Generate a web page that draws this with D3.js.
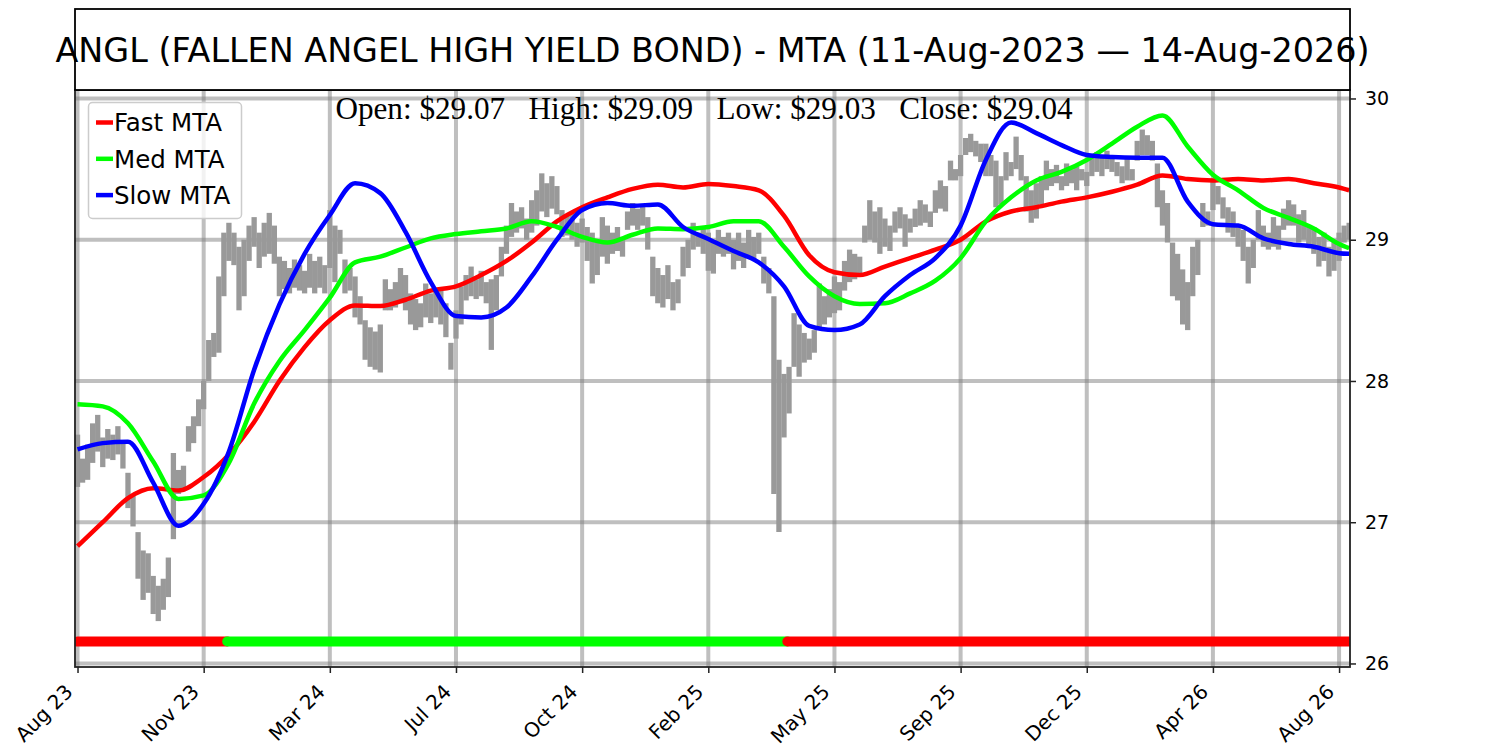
<!DOCTYPE html>
<html>
<head>
<meta charset="utf-8">
<script src="https://d3js.org/d3.v7.min.js"></script>
<style>
  body { margin: 0; background: #fff; }
  svg { font-family: "DejaVu Sans", sans-serif; }
</style>
</head>
<body>
<script>
// ---- data ----
var titleText = "ANGL (FALLEN ANGEL HIGH YIELD BOND) - MTA (11-Aug-2023 \u2014 14-Aug-2026)";
var ohlcText = "Open: $29.07   High: $29.09   Low: $29.03   Close: $29.04";

var tickIdx = [0, 75, 150, 225, 300, 375, 450, 525, 600, 675, 750];
var tickLabels = ["Aug 23", "Nov 23", "Mar 24", "Jul 24", "Oct 24", "Feb 25", "May 25", "Sep 25", "Dec 25", "Apr 26", "Aug 26"];
var yTicks = [26, 27, 28, 29, 30];

// price bars, one every 3 trading days (bar index = 3*k)
var barStep = 3;
var hiVals = [27.62,27.45,27.55,27.7,27.76,27.6,27.66,27.62,27.68,27.58,
  27.35,27.2,26.93,26.8,26.78,26.62,26.55,26.6,26.75,27.49,
  27.37,27.4,27.68,27.75,27.87,28.0,28.29,28.34,28.74,29.05,
  29.12,29.05,28.95,29.0,29.1,29.16,29.05,29.12,29.19,29.1,
  28.88,28.85,28.8,28.86,28.82,28.78,28.9,28.85,28.88,28.82,
  29.21,29.1,29.07,28.86,28.8,28.74,28.6,28.43,28.38,28.35,
  28.4,28.72,28.65,28.7,28.8,28.75,28.62,28.58,28.55,28.69,
  28.62,28.66,28.64,28.55,28.27,28.5,28.67,28.75,28.81,28.72,
  28.78,28.7,28.72,28.75,28.95,29.1,29.26,29.2,29.23,29.15,
  29.28,29.35,29.47,29.4,29.45,29.38,29.21,29.18,29.19,29.12,
  29.15,29.09,29.05,29.0,29.16,29.1,29.05,29.09,29.02,29.2,
  29.26,29.22,29.25,29.16,28.88,28.8,28.75,28.82,28.7,28.72,
  28.95,29.0,29.12,29.05,29.08,29.05,28.98,29.07,29.02,29.05,
  29.0,29.05,28.98,29.07,29.02,29.05,28.88,28.8,28.6,28.15,
  28.05,28.1,28.48,28.4,28.34,28.3,28.36,28.69,28.6,28.65,
  28.74,28.7,28.85,28.93,28.9,28.88,29.1,29.28,29.2,29.23,
  29.15,29.1,29.2,29.23,29.18,29.15,29.22,29.28,29.25,29.2,
  29.35,29.42,29.38,29.56,29.5,29.6,29.72,29.75,29.7,29.68,
  29.68,29.6,29.56,29.45,29.62,29.55,29.73,29.6,29.45,29.35,
  29.4,29.45,29.56,29.5,29.53,29.45,29.54,29.5,29.52,29.5,
  29.48,29.58,29.62,29.6,29.63,29.6,29.55,29.52,29.58,29.5,
  29.7,29.78,29.74,29.7,29.54,29.35,29.26,28.98,28.9,28.79,
  28.7,28.95,29.0,29.26,29.2,29.42,29.38,29.3,29.23,29.2,
  29.1,29.07,28.95,29.0,29.21,29.1,29.05,29.16,29.1,29.22,
  29.28,29.25,29.18,29.21,29.1,29.09,29.02,29.05,28.95,29.0,
  29.05,29.1,29.12];
var loVals = [27.25,27.28,27.3,27.42,27.5,27.39,27.45,27.44,27.48,27.38,
  27.1,26.97,26.6,26.45,26.5,26.35,26.3,26.38,26.47,26.88,
  27.2,27.22,27.5,27.56,27.68,27.8,28.0,28.17,28.2,28.6,
  28.85,28.82,28.5,28.6,28.85,28.95,28.8,28.88,28.9,28.83,
  28.6,28.65,28.62,28.66,28.64,28.62,28.66,28.62,28.66,28.62,
  28.8,28.7,28.9,28.62,28.64,28.45,28.4,28.15,28.1,28.08,
  28.06,28.5,28.5,28.52,28.55,28.5,28.4,28.36,28.38,28.45,
  28.41,28.45,28.4,28.31,28.08,28.3,28.4,28.57,28.6,28.58,
  28.6,28.55,28.22,28.5,28.74,28.9,29.02,29.05,29.08,29.0,
  29.05,29.1,29.2,29.16,29.22,29.18,29.02,29.03,29.0,28.95,
  28.98,28.85,28.69,28.75,28.88,28.83,28.9,28.92,28.88,29.07,
  29.1,29.07,29.1,28.93,28.6,28.55,28.52,28.58,28.5,28.55,
  28.74,28.8,28.93,28.95,28.9,28.78,28.76,28.9,28.88,28.9,
  28.79,28.85,28.8,28.88,28.86,28.9,28.69,28.62,27.2,26.93,
  27.6,27.77,28.1,28.03,28.13,28.15,28.2,28.38,28.4,28.45,
  28.48,28.5,28.64,28.7,28.72,28.75,28.98,29.0,28.98,28.9,
  28.95,28.92,29.05,29.08,28.95,29.05,29.09,29.1,29.12,29.09,
  29.19,29.22,29.2,29.42,29.42,29.45,29.6,29.62,29.59,29.55,
  29.45,29.45,29.23,29.25,29.42,29.45,29.5,29.42,29.2,29.12,
  29.15,29.25,29.35,29.38,29.4,29.35,29.38,29.4,29.35,29.42,
  29.38,29.45,29.48,29.45,29.5,29.48,29.45,29.4,29.42,29.42,
  29.56,29.6,29.6,29.56,29.23,29.1,28.98,28.6,28.57,28.4,
  28.36,28.6,28.75,29.09,29.1,29.21,29.25,29.15,29.05,29.02,
  28.95,28.85,28.69,28.8,29.0,28.95,28.93,28.95,28.93,29.07,
  29.1,29.1,28.98,29.0,28.95,28.9,28.81,28.85,28.74,28.78,
  28.85,28.98,29.0];

// MTA lines, sampled every 15 bars
var mtaIdx = [0,15,30,45,60,75,90,105,120,135,150,165,180,195,210,225,240,255,270,285,
  300,315,330,345,360,375,390,405,420,435,450,465,480,495,510,525,540,555,570,585,
  600,615,630,645,660,675,690,705,720,735,750,756];
var fastMTA = [26.83,27.0,27.17,27.24,27.225,27.32,27.48,27.71,28.0,28.24,
  28.43,28.535,28.53,28.575,28.64,28.67,28.75,28.85,28.98,29.13,
  29.23,29.3,29.36,29.39,29.37,29.395,29.38,29.35,29.17,28.89,
  28.77,28.75,28.81,28.87,28.93,29.0,29.13,29.2,29.23,29.27,
  29.3,29.34,29.39,29.455,29.43,29.42,29.43,29.42,29.43,29.4,
  29.37,29.35];
var medMTA = [27.835,27.82,27.7,27.43,27.165,27.19,27.42,27.84,28.14,28.36,
  28.59,28.84,28.88,28.945,29.01,29.04,29.06,29.08,29.13,29.09,
  29.02,28.98,29.035,29.08,29.075,29.09,29.13,29.13,28.95,28.74,
  28.6,28.545,28.55,28.62,28.71,28.87,29.13,29.3,29.42,29.48,
  29.565,29.68,29.8,29.88,29.66,29.46,29.35,29.225,29.155,29.08,
  28.97,28.94];
var slowMTA = [27.516,27.56,27.57,27.28,26.975,27.13,27.5,28.08,28.54,28.9,
  29.175,29.4,29.33,29.055,28.7,28.46,28.45,28.52,28.74,29.0,
  29.21,29.26,29.24,29.25,29.09,29.005,28.92,28.84,28.67,28.39,
  28.36,28.4,28.6,28.75,28.87,29.1,29.565,29.83,29.755,29.67,
  29.6,29.585,29.58,29.58,29.27,29.11,29.1,29.01,28.97,28.95,
  28.905,28.9];
var mtaNames = ["Fast MTA", "Med MTA", "Slow MTA"];

// signal band along the bottom
var bandStart = [0, 89, 422];
var bandEnd = [89, 422, 756];
var bandSignal = ["sell", "buy", "sell"];
var bandLevel = 26.155;

// ---- layout ----
var width = 1500, height = 750;
var plot = {left: 75, right: 1350, top: 90, bottom: 667};
var lineColors = ["#ff0000", "#00ff00", "#0000ff"];
var signalColor = {buy: "#00ff00", sell: "#ff0000"};

var x = d3.scaleLinear().domain([-1.5, 756.5]).range([plot.left, plot.right]);
var y = d3.scaleLinear().domain([25.975, 30.06]).range([plot.bottom, plot.top]);

var svg = d3.select("body").append("svg")
  .attr("width", width)
  .attr("height", height);

svg.append("defs").append("clipPath").attr("id", "plotclip")
  .append("rect")
  .attr("x", plot.left).attr("y", plot.top)
  .attr("width", plot.right - plot.left).attr("height", plot.bottom - plot.top);

// grid
var grid = svg.append("g").attr("clip-path", "url(#plotclip)");
grid.selectAll("line.hg").data(yTicks).enter().append("line")
  .attr("x1", plot.left).attr("x2", plot.right)
  .attr("y1", function(d){ return y(d); }).attr("y2", function(d){ return y(d); })
  .attr("stroke", "#808080").attr("stroke-opacity", 0.5).attr("stroke-width", 4);
grid.selectAll("line.vg").data(tickIdx).enter().append("line")
  .attr("y1", plot.top).attr("y2", plot.bottom)
  .attr("x1", function(d){ return x(d); }).attr("x2", function(d){ return x(d); })
  .attr("stroke", "#808080").attr("stroke-opacity", 0.5).attr("stroke-width", 4);

var body = svg.append("g").attr("clip-path", "url(#plotclip)");

// price bars
body.append("g").selectAll("line").data(hiVals).enter().append("line")
  .attr("x1", function(d, i){ return x(i * barStep); })
  .attr("x2", function(d, i){ return x(i * barStep); })
  .attr("y1", function(d){ return y(d); })
  .attr("y2", function(d, i){ return y(loVals[i]); })
  .attr("stroke", "#999999")
  .attr("stroke-width", 5.3);

// MTA lines
var series = [fastMTA, medMTA, slowMTA];
var line = d3.line()
  .x(function(d, i){ return x(mtaIdx[i]); })
  .y(function(d){ return y(d); })
  .curve(d3.curveMonotoneX);
series.map(function(s, k){
  body.append("path")
    .attr("d", line(s))
    .attr("fill", "none")
    .attr("stroke", lineColors[k])
    .attr("stroke-width", 4.5)
    .attr("stroke-linejoin", "round");
});

// signal band
bandStart.map(function(s, i){
  body.append("line")
    .attr("x1", x(s)).attr("x2", x(bandEnd[i]))
    .attr("y1", y(bandLevel)).attr("y2", y(bandLevel))
    .attr("stroke", signalColor[bandSignal[i]])
    .attr("stroke-width", 10)
    .attr("stroke-linecap", "round");
});

// axes (right y axis, bottom x axis)
var yAxis = svg.append("g")
  .attr("transform", "translate(" + plot.right + ",0)")
  .call(d3.axisRight(y).tickValues(yTicks).tickFormat(d3.format("d")).tickSize(6).tickPadding(9));
yAxis.select(".domain").remove();
yAxis.selectAll("text").attr("font-size", 19).attr("font-family", "DejaVu Sans").attr("fill", "#000");
yAxis.selectAll("line").attr("stroke", "#222").attr("stroke-width", 1.5);

var xAxis = svg.append("g")
  .attr("transform", "translate(0," + plot.bottom + ")")
  .call(d3.axisBottom(x).tickValues(tickIdx).tickFormat(function(d, i){ return tickLabels[i]; }).tickSize(6));
xAxis.select(".domain").remove();
xAxis.selectAll("line").attr("stroke", "#222").attr("stroke-width", 1.5);
xAxis.selectAll("text")
  .attr("font-size", 20).attr("font-family", "DejaVu Sans").attr("fill", "#000")
  .attr("text-anchor", "end")
  .attr("dy", null).attr("y", null)
  .attr("transform", "translate(-4,26) rotate(-45)");

// frame
svg.append("rect")
  .attr("x", plot.left).attr("y", plot.top)
  .attr("width", plot.right - plot.left).attr("height", plot.bottom - plot.top)
  .attr("fill", "none").attr("stroke", "#222").attr("stroke-width", 1.8);

// title box
svg.append("rect")
  .attr("x", plot.left).attr("y", 9)
  .attr("width", plot.right - plot.left).attr("height", plot.top - 9)
  .attr("fill", "#fff").attr("stroke", "#000").attr("stroke-width", 1.8);
svg.append("text")
  .attr("x", (plot.left + plot.right) / 2).attr("y", 62)
  .attr("text-anchor", "middle")
  .attr("font-size", 33.4)
  .text(titleText);

// OHLC line
svg.append("text")
  .attr("x", 704).attr("y", 119)
  .attr("text-anchor", "middle")
  .attr("font-family", "Liberation Serif, serif")
  .attr("font-size", 31.2)
  .style("white-space", "pre")
  .text(ohlcText);

// legend
var legend = svg.append("g");
legend.append("rect")
  .attr("x", 88.5).attr("y", 102.5).attr("width", 153).attr("height", 116)
  .attr("rx", 4)
  .attr("fill", "#fff").attr("fill-opacity", 0.8)
  .attr("stroke", "#cccccc").attr("stroke-width", 1.5);
mtaNames.map(function(name, i){
  var cy = 122.5 + i * 36.3;
  legend.append("line")
    .attr("x1", 96).attr("x2", 113).attr("y1", cy).attr("y2", cy)
    .attr("stroke", lineColors[i]).attr("stroke-width", 4.5);
  legend.append("text")
    .attr("x", 114).attr("y", cy + 8.8)
    .attr("font-size", 24.5)
    .text(name);
});
</script>
</body>
</html>
